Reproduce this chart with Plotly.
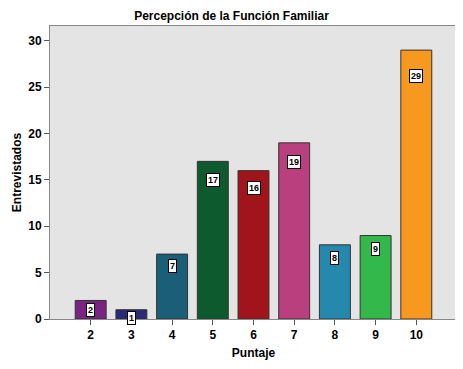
import plotly.graph_objects as go

categories = ["2", "3", "4", "5", "6", "7", "8", "9", "10"]
values = [2, 1, 7, 17, 16, 19, 8, 9, 29]
colors = ["#7B2383", "#2A2A78", "#1B5E78", "#0C5A2E", "#A1141C",
          "#BA3F7F", "#2589AE", "#33B84B", "#F8991F"]
y_ticks = [0, 5, 10, 15, 20, 25, 30]

font = "Liberation Sans, Arial, sans-serif"
W, H = 455, 361  # page body has an 8px default margin

fig = go.Figure()
fig.add_trace(go.Bar(
    x=categories, y=values,
    marker=dict(color=colors, line=dict(color="#333333", width=1)),
    width=0.76,
    hoverinfo="x+y",
))

for i, v in enumerate(values):
    fig.add_annotation(
        x=i, y=v, xref="x", yref="y",
        text="<b>%d</b>" % v, showarrow=False,
        yanchor="middle", yshift=-(8 + 0.6 * v),
        font=dict(family=font, size=9, color="black"),
        bgcolor="white", bordercolor="black", borderwidth=1, borderpad=1,
    )

fig.update_layout(
    width=W, height=H,
    margin=dict(l=42, r=6, t=18, b=50),
    paper_bgcolor="white", plot_bgcolor="#E4E4E4",
    title=dict(text="<b>Percepción de la Función Familiar</b>", x=223.5 / W, xanchor="center",
               y=1 - 8 / H, yanchor="middle",
               font=dict(family=font, size=12, color="black")),
    font=dict(family=font, size=12, color="black"),
    showlegend=False,
)
fig.update_xaxes(
    type="category", range=[-1, 9], automargin=False,
    tickvals=categories, ticktext=["<b>%s</b>" % c for c in categories],
    showgrid=False, zeroline=False,
    showline=True, linecolor="#888888", linewidth=1, mirror=True,
    ticks="outside", ticklen=5, tickcolor="#555555",
    tickfont=dict(family=font, size=12, color="black"),
    title=dict(text="<b>Puntaje</b>", font=dict(family=font, size=12, color="black"), standoff=7),
)
fig.update_yaxes(
    range=[0, 31.6], tickvals=y_ticks, automargin=False,
    ticktext=["<b>%d</b>" % t for t in y_ticks],
    showgrid=False, zeroline=False,
    showline=True, linecolor="#888888", linewidth=1, mirror=True,
    ticks="outside", ticklen=5, tickcolor="#555555",
    tickfont=dict(family=font, size=12, color="black"),
    title=dict(text="<b>Entrevistados</b>", font=dict(family=font, size=12, color="black"), standoff=4),
)
fig.write_html("out.html")
